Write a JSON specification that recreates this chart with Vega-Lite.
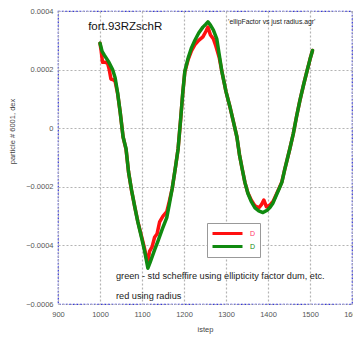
{
  "$schema": "https://vega.github.io/schema/vega-lite/v6.json",
  "autosize": "none",
  "width": 294,
  "height": 293,
  "padding": {"left": 58, "top": 11, "right": 1, "bottom": 34},
  "background": "white",
  "config": {
    "font": "Liberation Sans",
    "view": {"stroke": "#3333dd", "strokeWidth": 1.2, "strokeDash": [2, 1.5]},
    "axis": {
      "grid": true, "gridColor": "#b4b4b4", "gridDash": [2, 2], "gridWidth": 1.2,
      "domain": false, "ticks": false,
      "labelFont": "Liberation Sans", "labelFontSize": 7.5, "labelColor": "#555555",
      "titleFont": "Liberation Sans", "titleFontSize": 7.5, "titleFontWeight": "normal", "titleColor": "#444444"
    }
  },
  "layer": [
    {
      "data": {"values": [
        {"s":"r","istep":1000,"v":0.000290},{"s":"r","istep":1003,"v":0.000262},{"s":"r","istep":1006,"v":0.000225},{"s":"r","istep":1012,"v":0.000225},{"s":"r","istep":1018,"v":0.000222},{"s":"r","istep":1022,"v":0.000200},{"s":"r","istep":1026,"v":0.000168},{"s":"r","istep":1032,"v":0.000165},{"s":"r","istep":1036,"v":0.000160},{"s":"r","istep":1042,"v":0.000118},{"s":"r","istep":1048,"v":0.000055},{"s":"r","istep":1055,"v":-0.000030},{"s":"r","istep":1062,"v":-0.000072},{"s":"r","istep":1068,"v":-0.000150},{"s":"r","istep":1075,"v":-0.000212},{"s":"r","istep":1083,"v":-0.000270},{"s":"r","istep":1090,"v":-0.000318},{"s":"r","istep":1100,"v":-0.000375},{"s":"r","istep":1106,"v":-0.000410},{"s":"r","istep":1110,"v":-0.000440},{"s":"r","istep":1114,"v":-0.000455},{"s":"r","istep":1118,"v":-0.000420},{"s":"r","istep":1124,"v":-0.000405},{"s":"r","istep":1130,"v":-0.000372},{"s":"r","istep":1136,"v":-0.000360},{"s":"r","istep":1142,"v":-0.000320},{"s":"r","istep":1150,"v":-0.000300},{"s":"r","istep":1159,"v":-0.000285},{"s":"r","istep":1165,"v":-0.000250},{"s":"r","istep":1172,"v":-0.000205},{"s":"r","istep":1180,"v":-0.000130},{"s":"r","istep":1186,"v":-0.000070},{"s":"r","istep":1192,"v":0.000030},{"s":"r","istep":1197,"v":0.000120},{"s":"r","istep":1202,"v":0.000192},{"s":"r","istep":1210,"v":0.000235},{"s":"r","istep":1218,"v":0.000265},{"s":"r","istep":1226,"v":0.000285},{"s":"r","istep":1235,"v":0.000300},{"s":"r","istep":1245,"v":0.000312},{"s":"r","istep":1252,"v":0.000330},{"s":"r","istep":1257,"v":0.000345},{"s":"r","istep":1263,"v":0.000318},{"s":"r","istep":1270,"v":0.000305},{"s":"r","istep":1276,"v":0.000280},{"s":"r","istep":1284,"v":0.000240},{"s":"r","istep":1290,"v":0.000195},{"s":"r","istep":1300,"v":0.000125},{"s":"r","istep":1309,"v":0.000075},{"s":"r","istep":1318,"v":0.000020},{"s":"r","istep":1326,"v":-0.000030},{"s":"r","istep":1332,"v":-0.000090},{"s":"r","istep":1338,"v":-0.000135},{"s":"r","istep":1345,"v":-0.000185},{"s":"r","istep":1352,"v":-0.000220},{"s":"r","istep":1360,"v":-0.000245},{"s":"r","istep":1369,"v":-0.000265},{"s":"r","istep":1378,"v":-0.000272},{"s":"r","istep":1384,"v":-0.000262},{"s":"r","istep":1390,"v":-0.000245},{"s":"r","istep":1396,"v":-0.000268},{"s":"r","istep":1405,"v":-0.000262},{"s":"r","istep":1412,"v":-0.000250},{"s":"r","istep":1420,"v":-0.000225},{"s":"r","istep":1427,"v":-0.000203},{"s":"r","istep":1433,"v":-0.000183},{"s":"r","istep":1440,"v":-0.000140},{"s":"r","istep":1446,"v":-0.000105},{"s":"r","istep":1452,"v":-0.000070},{"s":"r","istep":1460,"v":-0.000020},{"s":"r","istep":1468,"v":0.000040},{"s":"r","istep":1476,"v":0.000095},{"s":"r","istep":1485,"v":0.000150},{"s":"r","istep":1492,"v":0.000190},{"s":"r","istep":1500,"v":0.000235},{"s":"r","istep":1506,"v":0.000265},
        {"s":"g","istep":1000,"v":0.000290},{"s":"g","istep":1005,"v":0.000262},{"s":"g","istep":1010,"v":0.000250},{"s":"g","istep":1020,"v":0.000228},{"s":"g","istep":1030,"v":0.000200},{"s":"g","istep":1036,"v":0.000172},{"s":"g","istep":1042,"v":0.000120},{"s":"g","istep":1048,"v":0.000055},{"s":"g","istep":1055,"v":-0.000030},{"s":"g","istep":1062,"v":-0.000070},{"s":"g","istep":1068,"v":-0.000150},{"s":"g","istep":1075,"v":-0.000210},{"s":"g","istep":1083,"v":-0.000270},{"s":"g","istep":1090,"v":-0.000320},{"s":"g","istep":1100,"v":-0.000380},{"s":"g","istep":1107,"v":-0.000425},{"s":"g","istep":1114,"v":-0.000478},{"s":"g","istep":1120,"v":-0.000455},{"s":"g","istep":1130,"v":-0.000415},{"s":"g","istep":1138,"v":-0.000385},{"s":"g","istep":1148,"v":-0.000345},{"s":"g","istep":1159,"v":-0.000305},{"s":"g","istep":1165,"v":-0.000260},{"s":"g","istep":1172,"v":-0.000205},{"s":"g","istep":1180,"v":-0.000130},{"s":"g","istep":1186,"v":-0.000070},{"s":"g","istep":1192,"v":0.000030},{"s":"g","istep":1197,"v":0.000120},{"s":"g","istep":1202,"v":0.000195},{"s":"g","istep":1210,"v":0.000240},{"s":"g","istep":1218,"v":0.000275},{"s":"g","istep":1226,"v":0.000300},{"s":"g","istep":1235,"v":0.000325},{"s":"g","istep":1245,"v":0.000345},{"s":"g","istep":1252,"v":0.000355},{"s":"g","istep":1257,"v":0.000363},{"s":"g","istep":1263,"v":0.000352},{"s":"g","istep":1270,"v":0.000335},{"s":"g","istep":1278,"v":0.000305},{"s":"g","istep":1284,"v":0.000250},{"s":"g","istep":1290,"v":0.000195},{"s":"g","istep":1300,"v":0.000125},{"s":"g","istep":1309,"v":0.000075},{"s":"g","istep":1318,"v":0.000020},{"s":"g","istep":1326,"v":-0.000030},{"s":"g","istep":1332,"v":-0.000090},{"s":"g","istep":1338,"v":-0.000135},{"s":"g","istep":1345,"v":-0.000185},{"s":"g","istep":1352,"v":-0.000222},{"s":"g","istep":1360,"v":-0.000250},{"s":"g","istep":1369,"v":-0.000272},{"s":"g","istep":1378,"v":-0.000282},{"s":"g","istep":1388,"v":-0.000288},{"s":"g","istep":1398,"v":-0.000280},{"s":"g","istep":1405,"v":-0.000270},{"s":"g","istep":1412,"v":-0.000255},{"s":"g","istep":1420,"v":-0.000228},{"s":"g","istep":1427,"v":-0.000205},{"s":"g","istep":1433,"v":-0.000185},{"s":"g","istep":1440,"v":-0.000140},{"s":"g","istep":1446,"v":-0.000105},{"s":"g","istep":1452,"v":-0.000070},{"s":"g","istep":1460,"v":-0.000020},{"s":"g","istep":1468,"v":0.000040},{"s":"g","istep":1476,"v":0.000095},{"s":"g","istep":1485,"v":0.000150},{"s":"g","istep":1492,"v":0.000190},{"s":"g","istep":1500,"v":0.000235},{"s":"g","istep":1506,"v":0.000265}
      ]},
      "mark": {"type": "line", "strokeWidth": 3.5, "strokeJoin": "round", "strokeCap": "round"},
      "encoding": {
        "x": {"field": "istep", "type": "quantitative", "title": "istep",
              "scale": {"domain": [900, 1600], "nice": false, "zero": false},
              "axis": {"values": [900, 1000, 1100, 1200, 1300, 1400, 1500, 1600], "format": "d", "labelPadding": 6, "titlePadding": 8, "labelFlush": false}},
        "y": {"field": "v", "type": "quantitative", "title": "particle # 6001, dex",
              "scale": {"domain": [-0.0006, 0.0004], "nice": false, "zero": false},
              "axis": {"values": [-0.0006, -0.0004, -0.0002, 0, 0.0002, 0.0004],
                       "labelExpr": "datum.value == 0 ? '0' : format(datum.value, '.4f')",
                       "labelPadding": 5, "labelFlush": false, "titleX": -42, "titleY": 120}},
        "color": {"field": "s", "type": "nominal",
                  "scale": {"domain": ["r", "g"], "range": ["#ff1010", "#108a10"]},
                  "legend": {"title": null, "orient": "none", "legendX": 149, "legendY": 212,
                             "symbolType": "M-1,0H5", "symbolSize": 100, "symbolStrokeWidth": 3,
                             "labelExpr": "'D'", "labelFontSize": 7,
                             "strokeColor": "#999999", "fillColor": "white", "padding": 4,
                             "rowPadding": -1, "labelOffset": 26,
                             "encode": {"labels": {"update": {"fill": {"signal": "datum.value === 'r' ? '#ff3366' : '#108a10'"}}}}}},
        "order": {"field": "istep", "type": "quantitative"}
      }
    },
    {
      "data": {"values": [
        {"istep": 1060, "v": 0.000345, "t": "fort.93RZschR"}
      ]},
      "mark": {"type": "text", "fontSize": 11.5, "font": "Liberation Sans", "color": "#111111", "align": "center", "baseline": "middle"},
      "encoding": {"x": {"field": "istep", "type": "quantitative"}, "y": {"field": "v", "type": "quantitative"}, "text": {"field": "t"}}
    },
    {
      "data": {"values": [
        {"istep": 1305, "v": 0.000362, "t": "'ellipFactor vs just radius.agr'"}
      ]},
      "mark": {"type": "text", "fontSize": 6.8, "font": "Liberation Sans", "color": "#222222", "align": "left", "baseline": "middle"},
      "encoding": {"x": {"field": "istep", "type": "quantitative"}, "y": {"field": "v", "type": "quantitative"}, "text": {"field": "t"}}
    },
    {
      "data": {"values": [
        {"istep": 1038, "v": -0.000505, "t": "green - std scheffire using ellipticity factor dum, etc."},
        {"istep": 1038, "v": -0.000573, "t": "red using radius"}
      ]},
      "mark": {"type": "text", "fontSize": 9.2, "font": "Liberation Sans", "color": "#222222", "align": "left", "baseline": "middle"},
      "encoding": {"x": {"field": "istep", "type": "quantitative"}, "y": {"field": "v", "type": "quantitative"}, "text": {"field": "t"}}
    }
  ]
}
